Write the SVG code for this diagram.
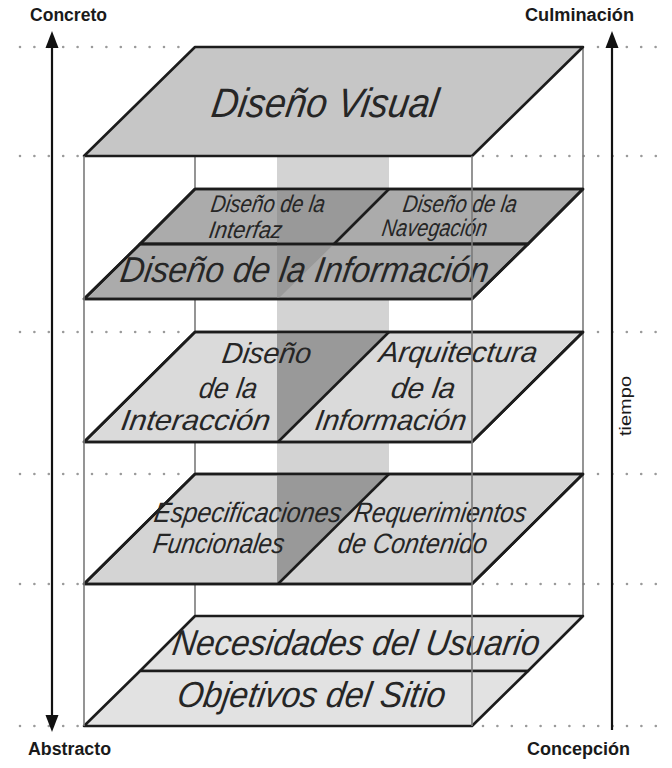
<svg xmlns="http://www.w3.org/2000/svg" width="672" height="768" viewBox="0 0 672 768">
<defs>
<style>
.bg{fill:#ffffff}
.dots{stroke:#9a9a9a;stroke-width:2.6;stroke-linecap:round;stroke-dasharray:0 14.4;fill:none}
.box{stroke:#7a7a7a;stroke-width:1.6;fill:none}
.plane{stroke:#1c1c1c;stroke-width:2.6;stroke-linejoin:round}
.div{stroke:#1c1c1c;stroke-width:2.6;fill:none}
.band{fill:#d3d3d3}
.dark{fill:#999999}
.t{font-family:"Liberation Sans Narrow","Liberation Sans",Arial,sans-serif;font-style:italic;fill:#262626}
.lbl{font-family:"Liberation Sans Narrow","Liberation Sans",Arial,sans-serif;font-weight:bold;font-size:18px;fill:#1a1a1a}
.axis{stroke:#111;stroke-width:2.2;fill:none}
.head{fill:#111}
</style>
</defs>
<rect class="bg" x="0" y="0" width="672" height="768"/>

<g id="guides">
<line class="dots" x1="20" y1="47" x2="192" y2="47"/>
<line class="dots" x1="20" y1="156" x2="82" y2="156"/>
<line class="dots" x1="20" y1="332" x2="192" y2="332"/>
<line class="dots" x1="20" y1="474" x2="192" y2="474"/>
<line class="dots" x1="20" y1="584" x2="82" y2="584"/>
<line class="dots" x1="20" y1="726" x2="82" y2="726"/>
<line class="dots" x1="598" y1="47" x2="656" y2="47"/>
<line class="dots" x1="483" y1="156" x2="656" y2="156"/>
<line class="dots" x1="598" y1="332" x2="656" y2="332"/>
<line class="dots" x1="598" y1="474" x2="656" y2="474"/>
<line class="dots" x1="483" y1="584" x2="656" y2="584"/>
<line class="dots" x1="483" y1="726" x2="656" y2="726"/>
</g>

<g id="column">
<rect class="band" x="277" y="156" width="112" height="318"/>
</g>

<g id="box-back">
<line class="box" x1="195" y1="156" x2="195" y2="616"/>
<line class="box" x1="583" y1="47" x2="583" y2="616"/>
</g>

<g id="diseno-visual">
<polygon class="plane" points="195,47 583,47 472,156 84,156" fill="#c6c6c6"/>
<text class="t" transform="translate(210,117) skewX(-9)" font-size="41" textLength="226" lengthAdjust="spacingAndGlyphs">Diseño Visual</text>
</g>

<g id="diseno-informacion">
<polygon class="plane" points="195,189 583,189 528,244 140,244" fill="#ababab"/>
<polygon class="plane" points="140,244 528,244 472,299 84,299" fill="#ababab"/>
<polygon class="dark" points="277,190 389,190 334,244 277,244"/>
<polygon class="dark" points="277,244 334,244 279,298 277,298"/>
<polygon points="195,189 583,189 528,244 140,244" fill="none" class="plane"/>
<polygon points="140,244 528,244 472,299 84,299" fill="none" class="plane"/>
<line class="div" x1="389" y1="189" x2="334" y2="244"/>
<text class="t" transform="translate(210,212) skewX(-9)" font-size="24" textLength="114" lengthAdjust="spacingAndGlyphs">Diseño de la</text>
<text class="t" transform="translate(208,238) skewX(-9)" font-size="24" textLength="73" lengthAdjust="spacingAndGlyphs">Interfaz</text>
<text class="t" transform="translate(402,212) skewX(-9)" font-size="24" textLength="114" lengthAdjust="spacingAndGlyphs">Diseño de la</text>
<text class="t" transform="translate(381,236) skewX(-9)" font-size="24" textLength="105" lengthAdjust="spacingAndGlyphs">Navegación</text>
<text class="t" transform="translate(119,282) skewX(-9)" font-size="36" textLength="368" lengthAdjust="spacingAndGlyphs">Diseño de la Información</text>
</g>

<g id="interaccion-arquitectura">
<polygon class="plane" points="195,332 583,332 472,442 84,442" fill="#dadada"/>
<polygon class="dark" points="277,333 389,333 279,441 277,441"/>
<polygon class="plane" points="195,332 583,332 472,442 84,442" fill="none"/>
<line class="div" x1="389" y1="332" x2="278" y2="442"/>
<text class="t" transform="translate(221,363) skewX(-9)" font-size="29" textLength="89" lengthAdjust="spacingAndGlyphs">Diseño</text>
<text class="t" transform="translate(198,398) skewX(-9)" font-size="29" textLength="58" lengthAdjust="spacingAndGlyphs">de la</text>
<text class="t" transform="translate(120,430) skewX(-9)" font-size="29" textLength="149" lengthAdjust="spacingAndGlyphs">Interacción</text>
<text class="t" transform="translate(378,362) skewX(-9)" font-size="29" textLength="158" lengthAdjust="spacingAndGlyphs">Arquitectura</text>
<text class="t" transform="translate(390,398) skewX(-9)" font-size="29" textLength="64" lengthAdjust="spacingAndGlyphs">de la</text>
<text class="t" transform="translate(314,430) skewX(-9)" font-size="29" textLength="151" lengthAdjust="spacingAndGlyphs">Información</text>
</g>

<g id="especificaciones-requerimientos">
<polygon class="plane" points="195,474 583,474 472,584 84,584" fill="#d4d4d4"/>
<polygon class="dark" points="277,475 389,475 279,583 277,583"/>
<polygon class="plane" points="195,474 583,474 472,584 84,584" fill="none"/>
<line class="div" x1="389" y1="474" x2="278" y2="584"/>
<text class="t" transform="translate(153,522) skewX(-9)" font-size="28" textLength="187" lengthAdjust="spacingAndGlyphs">Especificaciones</text>
<text class="t" transform="translate(152,553) skewX(-9)" font-size="28" textLength="131" lengthAdjust="spacingAndGlyphs">Funcionales</text>
<text class="t" transform="translate(353,522) skewX(-9)" font-size="28" textLength="172" lengthAdjust="spacingAndGlyphs">Requerimientos</text>
<text class="t" transform="translate(337,553) skewX(-9)" font-size="28" textLength="149" lengthAdjust="spacingAndGlyphs">de Contenido</text>
</g>

<g id="necesidades-usuario">
<polygon class="plane" points="195,616 583,616 528,671 140,671" fill="#e2e2e2"/>
<text class="t" transform="translate(171,655) skewX(-9)" font-size="36" textLength="367" lengthAdjust="spacingAndGlyphs">Necesidades del Usuario</text>
</g>

<g id="objetivos-sitio">
<polygon class="plane" points="140,671 528,671 472,726 84,726" fill="#e2e2e2"/>
<text class="t" transform="translate(176,707) skewX(-9)" font-size="36" textLength="268" lengthAdjust="spacingAndGlyphs">Objetivos del Sitio</text>
</g>

<g id="box-front">
<line class="box" x1="84" y1="156" x2="84" y2="726"/>
<line class="box" x1="472" y1="156" x2="472" y2="726"/>
</g>

<g id="connectors">
<line class="axis" x1="52" y1="46" x2="52" y2="717"/>
<polygon class="head" points="52,31 58.5,48 45.5,48"/>
<polygon class="head" points="52,732 58.5,715 45.5,715"/>
<line class="axis" x1="612" y1="730" x2="612" y2="46"/>
<polygon class="head" points="612,31 618.5,48 605.5,48"/>
</g>

<g id="labels">
<text class="lbl" x="30" y="21" textLength="77" lengthAdjust="spacingAndGlyphs">Concreto</text>
<text class="lbl" x="525" y="21" textLength="109" lengthAdjust="spacingAndGlyphs">Culminación</text>
<text class="lbl" x="28" y="755" textLength="83" lengthAdjust="spacingAndGlyphs">Abstracto</text>
<text class="lbl" x="527" y="755" textLength="103" lengthAdjust="spacingAndGlyphs">Concepción</text>
<text x="0" y="0" transform="translate(631,406) rotate(-90)" text-anchor="middle" font-family="Liberation Sans Narrow, Liberation Sans, Arial, sans-serif" font-size="17" fill="#1a1a1a" textLength="60" lengthAdjust="spacingAndGlyphs">tiempo</text>
</g>
</svg>
